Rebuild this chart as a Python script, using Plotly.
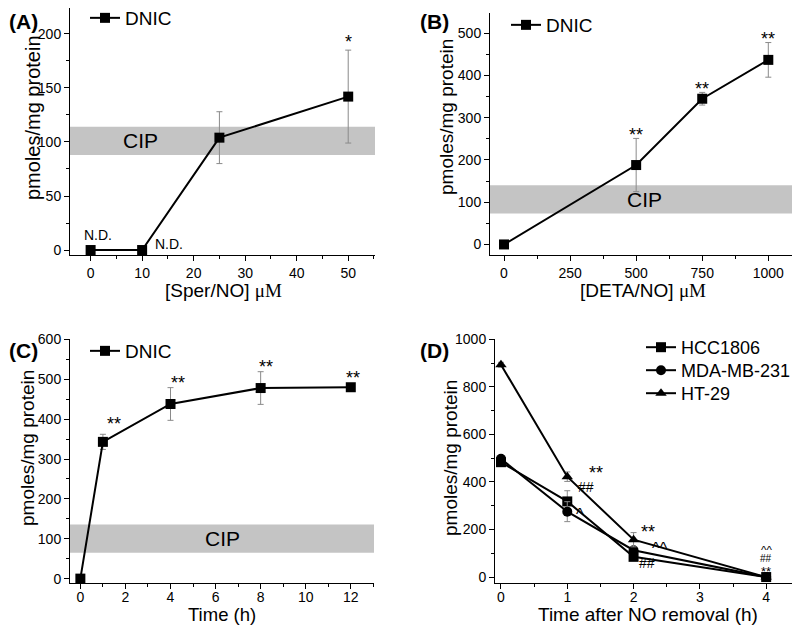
import plotly.graph_objects as go

W, H = 800, 625
FONT = "Liberation Sans"

# ---- panel A: DNIC vs Sper/NO ----
sper_x = [0, 10, 25, 50]
sper_y = [0, 0, 104, 142]
sper_err = [0, 0, 24, 43]
sper_cip = [88, 114]
sper_nd = [(1.4, 14), (15.3, 6)]
sper_stars = [(50, 196, "*")]

# ---- panel B: DNIC vs DETA/NO ----
deta_x = [0, 500, 750, 1000]
deta_y = [0, 188, 345, 437]
deta_err = [0, 63, 15, 41]
deta_cip = [73, 140]
deta_stars = [(500, 268, "**"), (750, 378, "**"), (1000, 496, "**")]

# ---- panel C: DNIC vs time ----
time_x = [0, 1, 4, 8, 12]
time_y = [0, 343, 438, 478, 480]
time_err = [0, 19, 41, 41, 0]
time_cip = [65, 136]
time_stars = [(1.5, 398, "**"), (4.35, 501, "**"), (8.25, 541, "**"), (12.1, 513, "**")]

# ---- panel D: decay after NO removal ----
rem_x = [0, 1, 2, 4]
hcc_y = [483, 318, 85, 0]
hcc_err = [15, 45, 12, 0]
mda_y = [497, 275, 113, 0]
mda_err = [10, 42, 12, 0]
ht_y = [893, 422, 157, 0]
ht_err = [10, 20, 30, 0]
rem_marks = [(1.43, 453, "**"), (1.28, 377, "##"), (1.19, 276, "^"),
             (2.22, 205, "**"), (2.4, 133, "^^"), (2.2, 58, "##")]
rem_stack = [(4.0, 122, "^^"), (4.0, 78, "##"), (4.0, 35, "**")]


# the page adds an 8px body margin, so screen pixels are shifted by 8
def px(x):
    return (x - 8) / W


def py(y, clamp=True):
    v = 1 - (y - 8) / H
    return min(1, v) if clamp else v


fig = go.Figure()

err_style = dict(type="data", color="#8a8a8a", thickness=1, width=3)


def add_series(x, y, err, xa, ya, name, symbol, legend):
    fig.add_trace(go.Scatter(
        x=x, y=y, mode="lines+markers", name=name,
        line=dict(color="black", width=2),
        marker=dict(symbol=symbol, size=10, color="black"),
        error_y=dict(array=err, **err_style),
        xaxis=xa, yaxis=ya, legend=legend,
    ))


add_series(sper_x, sper_y, sper_err, "x", "y", "DNIC", "square", "legend")
add_series(deta_x, deta_y, deta_err, "x2", "y2", "DNIC", "square", "legend2")
add_series(time_x, time_y, time_err, "x3", "y3", "DNIC", "square", "legend3")
add_series(rem_x, hcc_y, hcc_err, "x4", "y4", "HCC1806", "square", "legend4")
add_series(rem_x, mda_y, mda_err, "x4", "y4", "MDA-MB-231", "circle", "legend5")
add_series(rem_x, ht_y, ht_err, "x4", "y4", "HT-29", "triangle-up", "legend6")


def axis(domain, rng, dtick, minor, anchor, standoff=0):
    return dict(
        domain=domain, range=rng, dtick=dtick, tick0=0, anchor=anchor,
        showgrid=False, zeroline=False, showline=True, linecolor="black",
        linewidth=1, ticks="outside", ticklen=5, tickwidth=1, tickcolor="black",
        minor=dict(dtick=minor, ticks="outside", ticklen=3, tickcolor="black",
                   showgrid=False),
        ticklabelstandoff=standoff,
        tickfont=dict(family=FONT, size=14, color="black"),
    )


fig.update_layout(
    width=W, height=H, margin=dict(l=0, r=0, t=0, b=0, autoexpand=False),
    paper_bgcolor="white", plot_bgcolor="white",
    xaxis=axis([px(70), px(375)], [-4, 55.2], 10, 5, "y"),
    yaxis=axis([py(255), py(8)], [-4.6, 224], 50, 25, "x"),
    xaxis2=axis([px(490), px(795)], [-53, 1101], 250, 125, "y2"),
    yaxis2=axis([py(255), py(13)], [-25, 548], 100, 50, "x2"),
    xaxis3=axis([px(70), px(374)], [-0.46, 13.03], 2, 1, "y3", -4),
    yaxis3=axis([py(583), py(339)], [-11, 601], 100, 50, "x3"),
    xaxis4=axis([px(495), px(798)], [-0.09, 4.48], 1, 0.5, "y4", -4),
    yaxis4=axis([py(583), py(339)], [-25, 1001], 200, 100, "x4"),
    showlegend=True,
)

leg = dict(font=dict(family=FONT, size=19, color="black"), bgcolor="rgba(0,0,0,0)",
           xanchor="left", yanchor="top", tracegroupgap=0)
leg_d = dict(leg, font=dict(family=FONT, size=18, color="black"))
fig.update_layout(
    legend=dict(x=px(85), y=py(-1, False), **leg),
    legend2=dict(x=px(506), y=py(6, False), **leg),
    legend3=dict(x=px(85), y=py(332), **leg),
    legend4=dict(x=px(641), y=py(329), **leg_d),
    legend5=dict(x=px(641), y=py(352), **leg_d),
    legend6=dict(x=px(641), y=py(375), **leg_d),
)

# CIP bands
for xa, ya, band in [("x", "y", sper_cip), ("x2", "y2", deta_cip), ("x3", "y3", time_cip)]:
    fig.add_shape(type="rect", xref=f"{xa} domain", yref=ya, x0=0, x1=1,
                  y0=band[0], y1=band[1], fillcolor="#c4c4c4", line_width=0,
                  layer="below")

cip_txt = dict(text="CIP", showarrow=False, xanchor="center", yanchor="middle",
               font=dict(family=FONT, size=21, color="black"))
fig.add_annotation(x=9.6, y=sum(sper_cip) / 2, xref="x", yref="y", **cip_txt)
fig.add_annotation(x=530, y=sum(deta_cip) / 2, xref="x2", yref="y2", **cip_txt)
fig.add_annotation(x=6.3, y=sum(time_cip) / 2, xref="x3", yref="y3", **cip_txt)

for x, y in sper_nd:
    fig.add_annotation(x=x, y=y, xref="x", yref="y", text="N.D.", showarrow=False,
                       xanchor="center", yanchor="middle",
                       font=dict(family=FONT, size=14, color="black"))

# significance marks; positions are where the glyphs sit, shifted per glyph
mark_size = {"*": 18, "#": 14, "^": 16}
mark_shift = {"*": -4, "#": 0, "^": -3}


def add_mark(x, y, t, xa, ya, scale=1.0):
    c = t[0]
    fig.add_annotation(x=x, y=y, xref=xa, yref=ya, text=t, showarrow=False,
                       xanchor="center", yanchor="middle", yshift=mark_shift[c] * scale,
                       font=dict(family=FONT, size=mark_size[c] * scale, color="black"))


for xa, ya, marks in [("x", "y", sper_stars), ("x2", "y2", deta_stars),
                      ("x3", "y3", time_stars), ("x4", "y4", rem_marks)]:
    for x, y, t in marks:
        add_mark(x, y, t, xa, ya)
for x, y, t in rem_stack:
    add_mark(x, y, t, "x4", "y4", 0.72)

# panel labels
for t, x, y in [("(A)", 23, 21), ("(B)", 434, 21), ("(C)", 23, 350), ("(D)", 434, 350)]:
    fig.add_annotation(x=px(x), y=py(y), xref="paper", yref="paper", text=f"<b>{t}</b>",
                       showarrow=False, xanchor="center", yanchor="middle",
                       font=dict(family=FONT, size=21, color="black"))

# axis titles
mu = '<span style="font-family:Liberation Serif">μM</span>'
for t, x, y, s in [(f"[Sper/NO] {mu}", 223, 290, 19), (f"[DETA/NO] {mu}", 643, 290, 19),
                   ("Time (h)", 222, 614, 18.5), ("Time after NO removal (h)", 648, 614, 19)]:
    fig.add_annotation(x=px(x), y=py(y), xref="paper", yref="paper", text=t,
                       showarrow=False, xanchor="center", yanchor="middle",
                       font=dict(family=FONT, size=s, color="black"))
for x, y, s in [(33, 118, 20), (446, 117, 19), (27, 448, 19), (450, 458, 19)]:
    fig.add_annotation(x=px(x), y=py(y), xref="paper", yref="paper",
                       text="pmoles/mg protein", textangle=-90, showarrow=False,
                       xanchor="center", yanchor="middle",
                       font=dict(family=FONT, size=s, color="black"))

fig.write_html("out.html")
